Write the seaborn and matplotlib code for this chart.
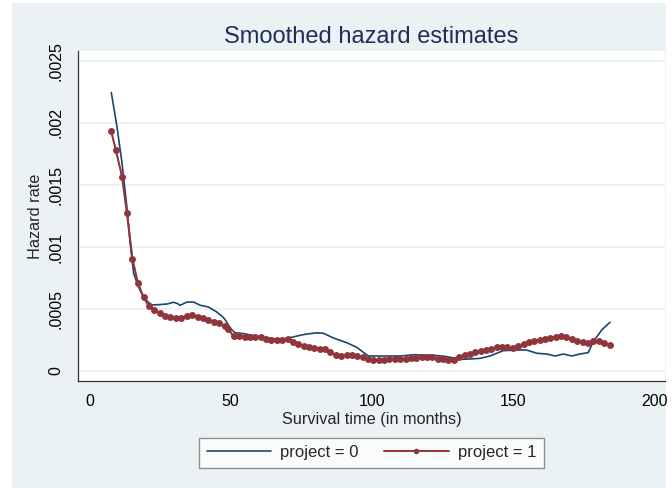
import matplotlib
matplotlib.use("Agg")
import matplotlib.pyplot as plt
from matplotlib.patches import Rectangle
from matplotlib.lines import Line2D
import seaborn as sns
import pandas as pd

# ---- data ----
months_p0 = [7.7, 9.7, 11.5, 13.2, 14.4, 15.6, 17.3, 19.1, 20.5, 22.1, 25.0, 27.4,
             29.7, 31.0, 32.1, 34.5, 36.8, 39.2, 42.1, 45.1, 47.0, 48.0, 49.8, 51.6,
             54.5, 58.0, 62.0, 66.0, 70.0, 72.2, 75.0, 77.0, 80.5, 82.8, 86.4, 91.1,
             94.7, 97.0, 98.8, 104.1, 110.0, 114.7, 121.8, 126.0, 130.0, 132.4, 138.3,
             141.8, 146.5, 151.3, 154.8, 158.4, 161.9, 164.9, 167.8, 170.8, 173.7,
             176.6, 178.4, 181.4, 184.3]
hazard_p0 = [.002245, .001970, .001675, .001325, .001030, .000788, .000680, .000599,
             .000560, .000532, .000536, .000540, .000554, .000545, .000530, .000556,
             .000556, .000530, .000516, .000475, .000440, .000415, .000344, .000308,
             .000302, .000285, .000270, .000258, .000262, .000275, .000290, .000298,
             .000308, .000304, .000266, .000228, .000190, .000150, .000121, .000121,
             .000121, .000131, .000127, .000118, .000100, .000094, .000102, .000121,
             .000164, .000169, .000169, .000143, .000137, .000121, .000137, .000121,
             .000137, .000148, .000236, .000331, .000393]

months_p1 = [7.6, 9.3, 11.5, 13.2, 15.2, 17.1, 19.1, 20.9, 22.9, 24.8, 26.8, 28.6,
             30.6, 32.5, 34.5, 36.4, 38.3, 40.2, 42.1, 44.0, 45.9, 47.8, 49.2, 51.0,
             53.0, 54.9, 56.8, 58.7, 60.6, 62.5, 64.4, 66.3, 68.2, 70.1, 72.0, 73.9,
             75.8, 77.7, 79.6, 81.5, 83.4, 85.3, 87.2, 89.1, 91.0, 92.9, 94.8, 96.7,
             98.6, 100.5, 102.4, 104.3, 106.2, 108.1, 110.0, 111.9, 113.8, 115.7,
             117.6, 119.5, 121.4, 123.3, 125.2, 127.1, 129.0, 130.9, 132.8, 134.7,
             136.6, 138.5, 140.4, 142.3, 144.2, 146.1, 148.0, 149.9, 151.8, 153.7,
             155.6, 157.5, 159.4, 161.3, 163.2, 165.1, 167.0, 168.9, 170.8, 172.7,
             174.6, 176.5, 178.4, 180.3, 182.2, 184.3]
hazard_p1 = [.001938, .001782, .001567, .001277, .000903, .000710, .000594, .000527,
             .000492, .000465, .000444, .000433, .000425, .000428, .000444, .000449,
             .000438, .000428, .000412, .000398, .000384, .000365, .000335, .000282,
             .000280, .000277, .000277, .000275, .000272, .000255, .000250, .000250,
             .000252, .000255, .000232, .000215, .000202, .000192, .000183, .000178,
             .000174, .000150, .000128, .000124, .000127, .000126, .000118, .000110,
             .000098, .000092, .000089, .000090, .000096, .000099, .000099, .000099,
             .000103, .000108, .000110, .000113, .000110, .000100, .000096, .000090,
             .000085, .000115, .000130, .000140, .000150, .000158, .000168, .000180,
             .000192, .000195, .000190, .000185, .000200, .000220, .000232, .000242,
             .000250, .000260, .000268, .000275, .000280, .000276, .000255, .000240,
             .000232, .000228, .000238, .000240, .000225, .000210]

x_ticks = [0, 50, 100, 150, 200]
y_ticks = [0, 0.0005, 0.001, 0.0015, 0.002, 0.0025]
y_tick_labels = ["0", ".0005", ".001", ".0015", ".002", ".0025"]
legend_labels = ["project = 0", "project = 1"]
title = "Smoothed hazard estimates"
xlabel = "Survival time (in months)"
ylabel = "Hazard rate"

# ---- styling ----
sns.set_style("white")
plt.rcParams["font.family"] = ["Liberation Sans", "DejaVu Sans"]

BLUE = "#1A476F"
RED = "#90353B"
BG = "#EAF2F3"

df0 = pd.DataFrame({"month": months_p0, "hazard": hazard_p0})
df1 = pd.DataFrame({"month": months_p1, "hazard": hazard_p1})

fig = plt.figure(figsize=(6.72, 4.88), dpi=100, facecolor="white")
bg = Rectangle((12 / 672, 0), 654 / 672, 485 / 488, transform=fig.transFigure,
               facecolor=BG, edgecolor="none", zorder=-10)
fig.patches.append(bg)
ax = fig.add_axes([78 / 672, 1 - 381 / 488, (665 - 78) / 672, (381 - 51) / 488])
ax.set_zorder(1)
ax.set_facecolor("white")

sns.lineplot(data=df0, x="month", y="hazard", ax=ax, color=BLUE, linewidth=1.2,
             estimator=None, sort=False, zorder=3)
sns.lineplot(data=df1, x="month", y="hazard", ax=ax, color=RED, linewidth=1.5,
             marker="o", markersize=5.0, markeredgewidth=0, estimator=None,
             sort=False, zorder=4)

ax.set_xlim(-4.1, 203.8)
ax.set_ylim(-0.0000806, 0.00258)
ax.set_xticks(x_ticks)
ax.set_xticklabels([str(t) for t in x_ticks])
ax.set_yticks(y_ticks)
ax.set_yticklabels(y_tick_labels, rotation=90, va="center")

ax.yaxis.grid(True, color=BG, linewidth=1.3)
ax.xaxis.grid(False)
ax.set_axisbelow(True)

for s in ["top", "right"]:
    ax.spines[s].set_visible(False)
for s in ["left", "bottom"]:
    ax.spines[s].set_color("#333333")
    ax.spines[s].set_linewidth(0.9)

ax.tick_params(axis="both", which="major", direction="out", length=4.3, width=0.8,
               color="#333333", labelsize=11.5, labelcolor="black", pad=5)
ax.tick_params(axis="y", pad=6)

ax.set_xlabel(xlabel, fontsize=11.7, labelpad=2)
ax.set_ylabel(ylabel, fontsize=11.7, labelpad=4)
ax.set_title(title, fontsize=17, color="#1F2F5C", pad=6)

handles = [Line2D([0], [0], color=BLUE, linewidth=1.2),
           Line2D([0], [0], color=RED, linewidth=1.4, marker="o",
                  markersize=4, markeredgewidth=0)]
leg = fig.legend(handles, legend_labels, loc="center",
                 bbox_to_anchor=(371.5 / 672, 1 - 452.5 / 488), ncol=2,
                 frameon=True, fancybox=False, fontsize=12, handlelength=3.85,
                 handletextpad=0.55, columnspacing=1.55, borderpad=0.45)
leg.get_frame().set_edgecolor("#777777")
leg.get_frame().set_linewidth(1.0)
leg.get_frame().set_facecolor("white")

fig.savefig("out.png", dpi=100, facecolor=fig.get_facecolor())
